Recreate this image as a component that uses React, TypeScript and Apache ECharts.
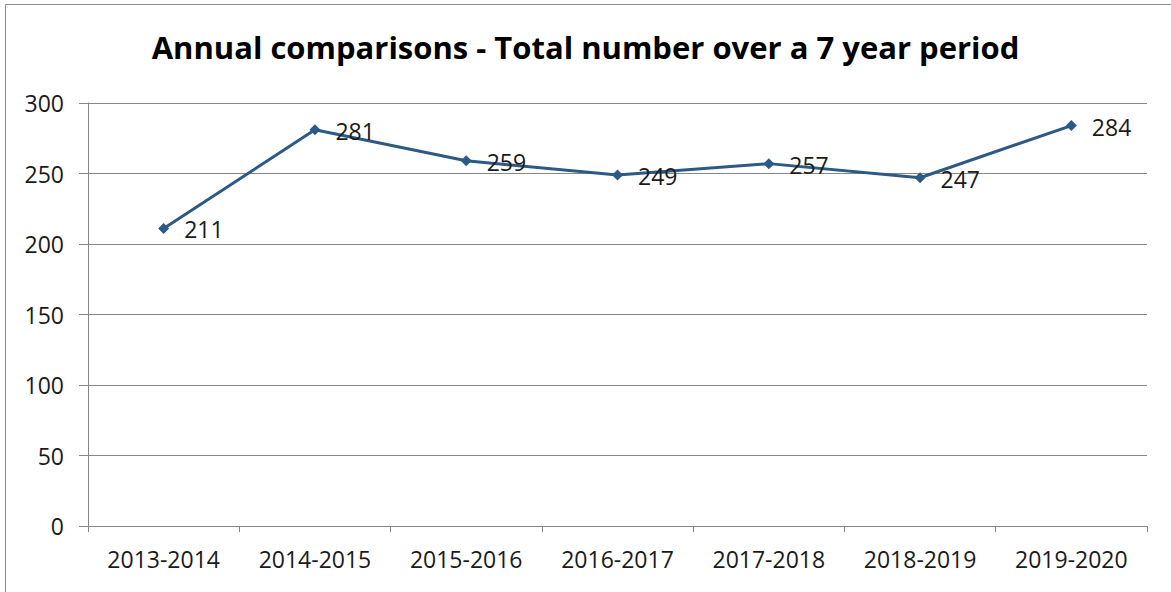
import React, { useEffect, useRef } from "react";
import * as echarts from "echarts";

const categories = ["2013-2014", "2014-2015", "2015-2016", "2016-2017", "2017-2018", "2018-2019", "2019-2020"];
const totals = [211, 281, 259, 249, 257, 247, 284];
const titleText = "Annual comparisons - Total number over a 7 year period";

export default function App() {
  const ref = useRef<HTMLDivElement>(null);
  useEffect(() => {
    if (!ref.current) return;
    const chart = echarts.init(ref.current, null, { renderer: "svg" });
    const font = "'Open Sans', 'Noto Sans', sans-serif";
    chart.setOption({
      animation: false,
      backgroundColor: "#ffffff",
      title: {
        text: titleText,
        left: "center",
        top: 26,
        textStyle: { fontFamily: font, fontSize: 31, fontWeight: "bold", color: "#000000" },
      },
      graphic: [
        {
          type: "rect",
          shape: { x: 5.5, y: 4.5, width: 1200, height: 700 },
          style: { fill: "none", stroke: "#8c8c8c", lineWidth: 1 },
          silent: true,
        },
      ],
      grid: { left: 88, right: 24, top: 103, bottom: 66, containLabel: false },
      xAxis: {
        type: "category",
        data: categories,
        boundaryGap: true,
        axisLine: { lineStyle: { color: "#868686", width: 1 } },
        axisTick: { show: true, alignWithLabel: false, length: 6, lineStyle: { color: "#868686" } },
        axisLabel: { fontFamily: font, fontSize: 23, color: "#1a1a1a", margin: 21 },
        splitLine: { show: false },
      },
      yAxis: {
        type: "value",
        min: 0,
        max: 300,
        interval: 50,
        axisLine: { show: true, lineStyle: { color: "#868686", width: 1 } },
        axisTick: { show: true, length: 9, lineStyle: { color: "#868686" } },
        axisLabel: { fontFamily: font, fontSize: 23, color: "#1a1a1a", margin: 24 },
        splitLine: { show: true, lineStyle: { color: "#868686", width: 1 } },
      },
      series: [
        {
          type: "line",
          data: totals,
          symbol: "diamond",
          symbolSize: 11,
          lineStyle: { color: "#2c5986", width: 3 },
          itemStyle: { color: "#2c5986" },
          label: {
            show: true,
            position: "right",
            distance: 15,
            offset: [0, 1],
            fontFamily: font,
            fontSize: 23,
            color: "#1a1a1a",
          },
        },
      ],
    });
    return () => chart.dispose();
  }, []);
  return (
    <div
      ref={ref}
      style={{ position: "absolute", left: 0, top: 0, width: 1171, height: 592 }}
    />
  );
}
